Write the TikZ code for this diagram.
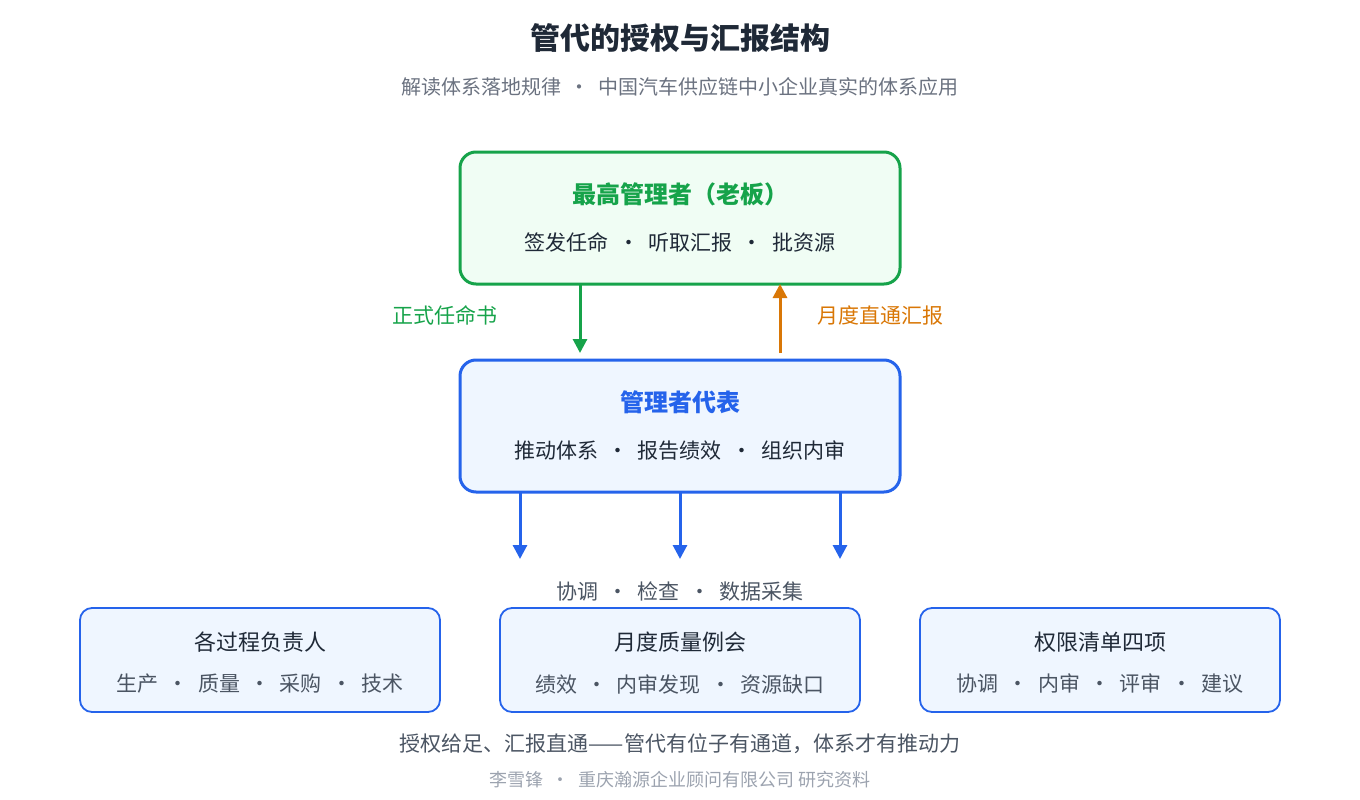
\documentclass[tikz,border=0pt]{standalone}
\usepackage{fontspec}
\setmainfont{Noto Sans CJK SC}
\newfontfamily\cjkb{Noto Sans CJK SC}[BoldFont={* Bold}]
\usetikzlibrary{arrows.meta}
\definecolor{dark}{HTML}{1F2937}
\definecolor{gr}{HTML}{6B7280}
\definecolor{grn}{HTML}{16A34A}
\definecolor{grnf}{HTML}{F0FDF4}
\definecolor{blu}{HTML}{2563EB}
\definecolor{bluf}{HTML}{EFF6FF}
\definecolor{org}{HTML}{D97706}
\definecolor{ft}{HTML}{9CA3AF}
\definecolor{mid}{HTML}{4B5563}
\begin{document}
\begin{tikzpicture}[x=1pt,y=-1pt,
  fs/.style={font=\fontsize{#1}{#1}\selectfont},
  big/.style={draw, rounded corners=16pt, line width=3pt, minimum width=440pt, minimum height=132pt},
  small/.style={draw=blu, fill=bluf, rounded corners=12pt, line width=1.8pt, minimum width=360pt, minimum height=104pt},
  arr/.style={line width=3pt, -{Triangle[length=14pt,width=14pt]}}]
\useasboundingbox (0,0) rectangle (1360,800);
\node[fs=30, text=dark, font=\bfseries] (t) at (680,38) {\fontsize{30}{30}\selectfont 管代的授权与汇报结构};
\node[fs=20, text=gr] (st) at (680,87) {解读体系落地规律 \ · \ 中国汽车供应链中小企业真实的体系应用};
\node[big, draw=grn, fill=grnf] (b1) at (680,218) {};
\node[text=grn, font=\bfseries] (b1t) at (680,194) {\fontsize{24}{24}\selectfont 最高管理者（老板）};
\node[fs=21, text=dark] (b1s) at (680,242) {签发任命 \ · \ 听取汇报 \ · \ 批资源};
\node[big, draw=blu, fill=bluf] (b2) at (680,426) {};
\node[text=blu, font=\bfseries] (b2t) at (680,402) {\fontsize{24}{24}\selectfont 管理者代表};
\node[fs=21, text=dark] (b2s) at (680,451) {推动体系 \ · \ 报告绩效 \ · \ 组织内审};
\coordinate (g1) at (580,284); \coordinate (g2) at (580,353);
\draw[arr, grn] (g1) -- (g2);
\coordinate (o1) at (780,353); \coordinate (o2) at (780,284);
\draw[arr, org] (o1) -- (o2);
\node[fs=21, text=grn] (lg) at (445,315) {正式任命书};
\node[fs=21, text=org] (lo) at (880,315) {月度直通汇报};
\foreach \x/\n in {520/a,680/b,840/c}{
  \coordinate (s\n) at (\x,492); \coordinate (e\n) at (\x,559);
  \draw[arr, blu] (s\n) -- (e\n);}
\node[fs=21, text=mid] (lc) at (680,591) {协调 \ · \ 检查 \ · \ 数据采集};
\foreach \x/\n/\a/\b in {260/p/各过程负责人/{生产 \ · \ 质量 \ · \ 采购 \ · \ 技术},680/q/月度质量例会/{绩效 \ · \ 内审发现 \ · \ 资源缺口},1100/r/权限清单四项/{协调 \ · \ 内审 \ · \ 评审 \ · \ 建议}}{
  \node[small] (\n) at (\x,660) {};
  \node[fs=22, text=dark] (\n t) at (\x,642) {\a};
  \node[fs=21, text=mid] (\n s) at (\x,684) {\b};}
\node[fs=21, text=mid] (f1) at (680,744) {授权给足、汇报直通——管代有位子有通道，体系才有推动力};
\node[fs=18, text=ft] (f2) at (680,780) {李雪锋 \ · \ 重庆瀚源企业顾问有限公司 研究资料};
\end{tikzpicture}
\end{document}
